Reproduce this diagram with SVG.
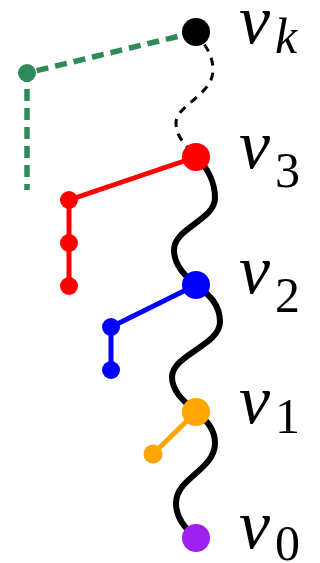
<svg xmlns="http://www.w3.org/2000/svg" width="320" height="563" viewBox="0 0 320 563">
<style>
.wave{fill:none;stroke:#000;stroke-width:6;stroke-linecap:round}
.dash{fill:none;stroke:#000;stroke-width:3;stroke-dasharray:8 7}
.gd{fill:none;stroke:#2e8b57;stroke-width:5.5;stroke-dasharray:12 7}
</style>
<rect width="320" height="563" fill="#fff"/>
<g id="connectors">
<path class="dash" d="M196,32 C205,45 213,55 213,70 C213,95 176,105 176,123 C176,135 183,143 196,157"/>
<path class="wave" d="M196,157 C208,168 215,183 215,198 C215,220 174,228 174,250 C174,265 185,276 196,285"/>
<path class="wave" d="M196,285 C210,295 220,305 220,322 C220,345 172,355 172,377 C172,392 185,402 196,412"/>
<path class="wave" d="M196,412 C207,420 215,430 215,443 C215,470 176,478 176,503 C176,518 185,528 196,538"/>
<path class="gd" d="M196,32 L27,73 L27,190"/>
<path d="M196,157 L69,200 L69,286" fill="none" stroke="#ff0000" stroke-width="5"/>
<path d="M196,285 L111,327 L111,370" fill="none" stroke="#0000ff" stroke-width="5"/>
<path d="M196,412 L153,454" fill="none" stroke="#ffa500" stroke-width="5"/>
</g>
<g id="n-green"><circle cx="27" cy="73" r="9" fill="#2e8b57"/></g>
<g id="n-red1"><circle cx="69" cy="200" r="9" fill="#ff0000"/></g>
<g id="n-red2"><circle cx="69" cy="243" r="9" fill="#ff0000"/></g>
<g id="n-red3"><circle cx="69" cy="286" r="9" fill="#ff0000"/></g>
<g id="n-blue1"><circle cx="111" cy="327" r="9" fill="#0000ff"/></g>
<g id="n-blue2"><circle cx="111" cy="370" r="9" fill="#0000ff"/></g>
<g id="n-orange1"><circle cx="153" cy="454" r="9.5" fill="#ffa500"/></g>
<g id="labels" font-family="Liberation Serif, Times New Roman, serif" fill="#000">
<g id="vk"><circle cx="196" cy="32" r="14" fill="#000"/>
<text x="239" y="43" font-size="70" font-style="italic">v</text><text x="275" y="53" font-size="50" font-style="italic">k</text></g>
<g id="v3"><circle cx="196" cy="157" r="14" fill="#ff0000"/>
<text x="239" y="168" font-size="70" font-style="italic">v</text><text x="275" y="187" font-size="50">3</text></g>
<g id="v2"><circle cx="196" cy="285" r="14" fill="#0000ff"/>
<text x="239" y="293" font-size="70" font-style="italic">v</text><text x="275" y="312" font-size="50">2</text></g>
<g id="v1"><circle cx="196" cy="412" r="14" fill="#ffa500"/>
<text x="239" y="423" font-size="70" font-style="italic">v</text><text x="275" y="433" font-size="50">1</text></g>
<g id="v0"><circle cx="196" cy="538" r="14" fill="#a020f0"/>
<text x="239" y="548" font-size="70" font-style="italic">v</text><text x="275" y="560" font-size="50">0</text></g>
</g>
</svg>
